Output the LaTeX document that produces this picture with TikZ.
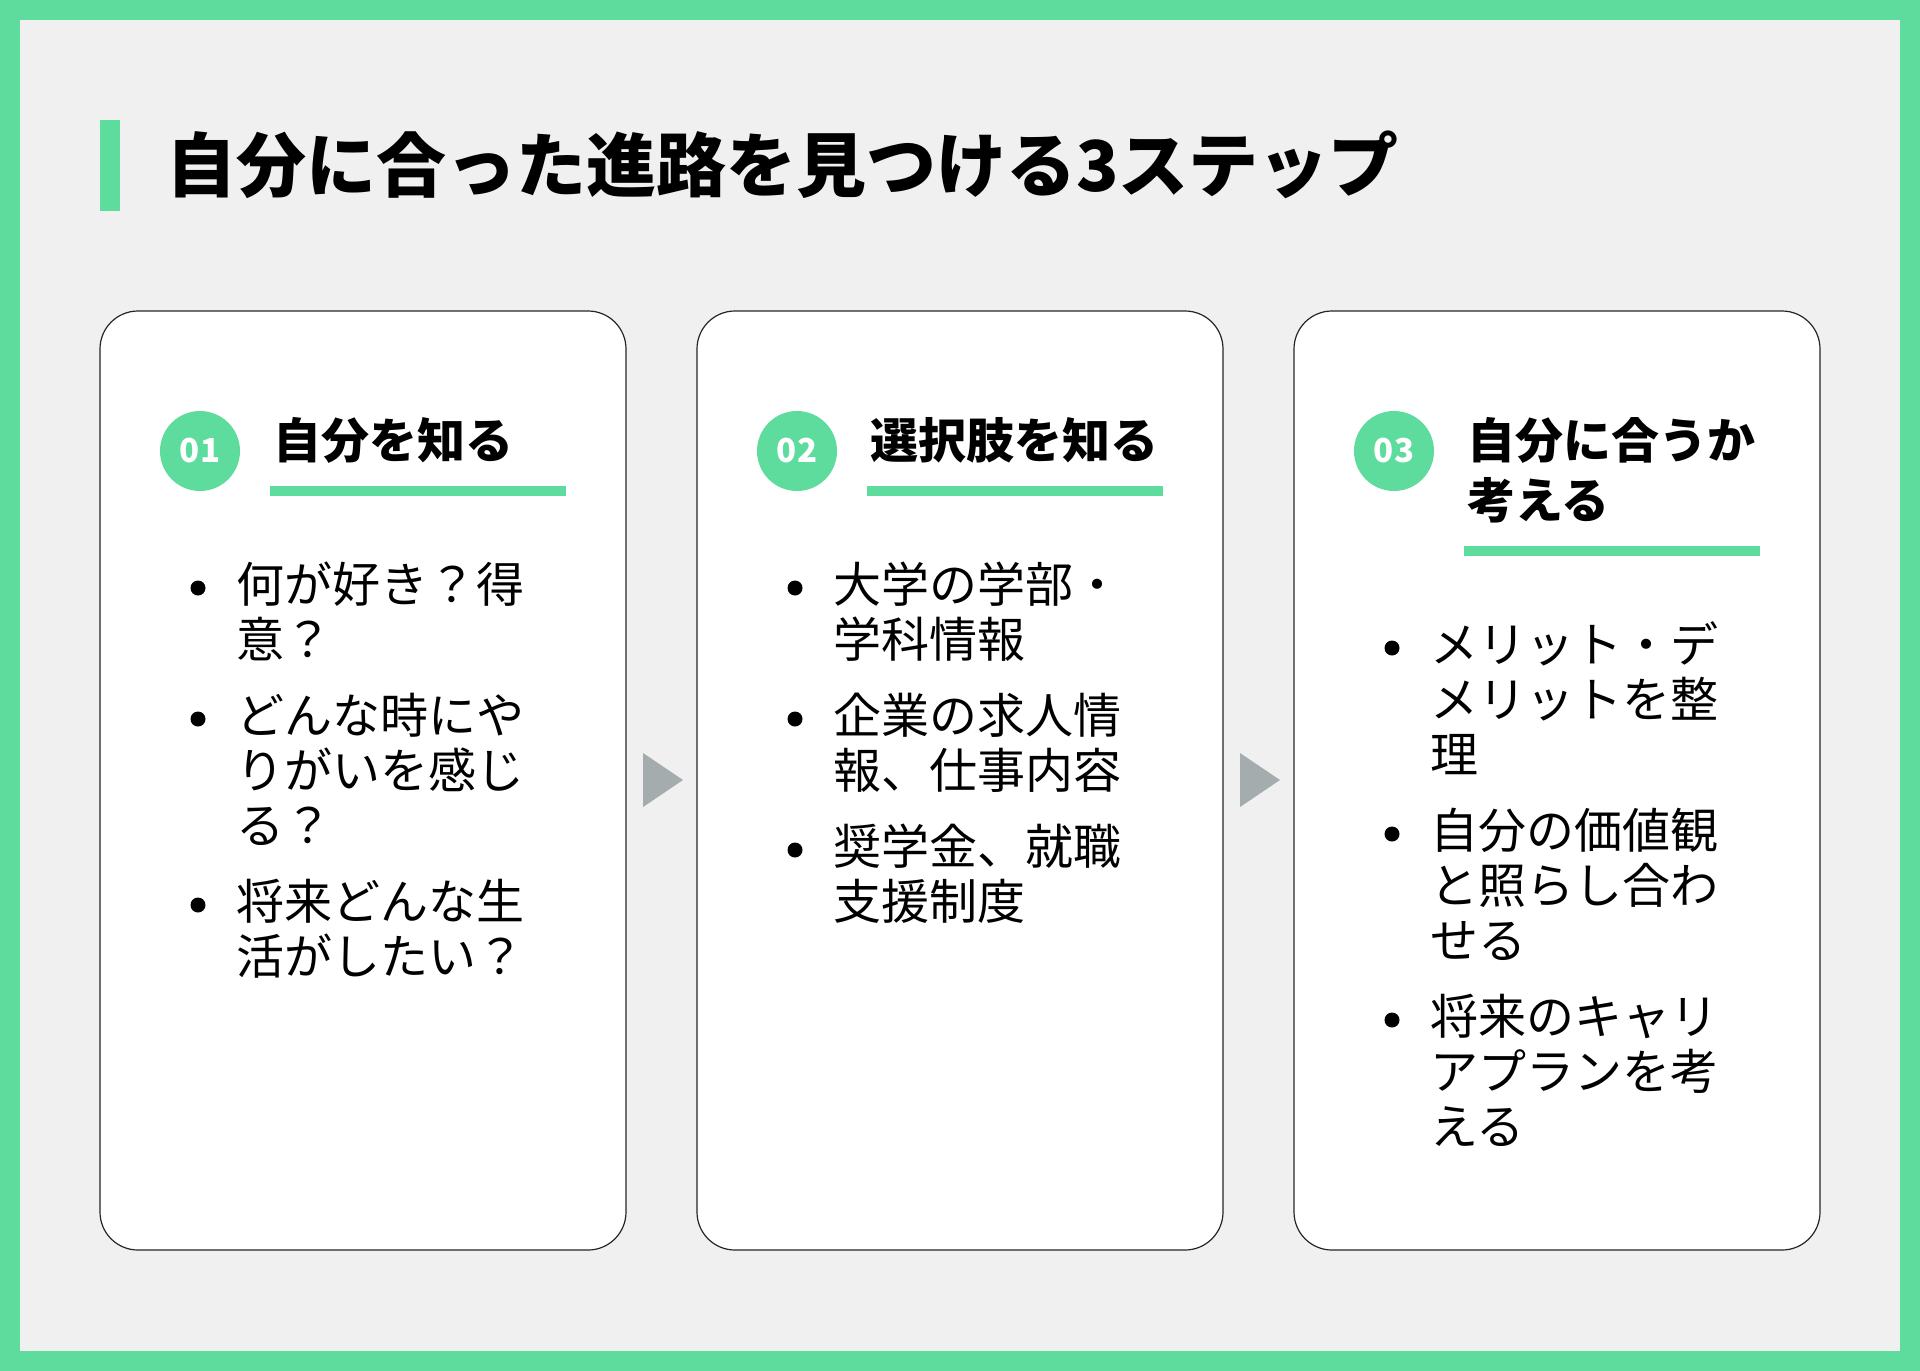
\documentclass[tikz,border=0pt]{standalone}
\usepackage{fontspec}
\setmainfont{Noto Sans CJK JP}
\usetikzlibrary{positioning}
\definecolor{stepgreen}{RGB}{94,220,158}
\definecolor{bggrey}{RGB}{240,240,240}
\definecolor{arrowgrey}{RGB}{164,172,173}
\tikzset{
	x=1pt, y=-1pt,
	card/.style={draw=black!85, line width=1.2pt, fill=white, rounded corners=38pt,
		minimum width=526pt, minimum height=939pt, inner sep=0pt},
	badge/.style={circle, fill=stepgreen, minimum size=80pt, inner sep=0pt,
		text=white, font=\fontsize{33}{33}\selectfont\bfseries},
	heading/.style={anchor=base west, inner sep=0pt, align=left,
		font=\fontsize{48}{60}\selectfont\bfseries},
	item/.style={anchor=base west, inner sep=0pt, align=left,
		font=\fontsize{48}{55}\selectfont},
	dot/.style={circle, fill=black, minimum size=15pt, inner sep=0pt},
	rule/.style={stepgreen, line width=10pt},
	marker/.style={fill=arrowgrey},
}
\begin{document}
\begin{tikzpicture}
	% frame and background
	\fill[stepgreen] (0,0) rectangle (1920,1371);
	\fill[bggrey] (20,20) rectangle (1900,1351);

	% title
	\fill[stepgreen] (100,120) rectangle (120,211);
	\node[anchor=base west, inner sep=0pt, font=\fontsize{70}{70}\selectfont\bfseries] (title) at (166,191) {自分に合った進路を見つける3ステップ};

	% cards
	\node[card] (card1) at (363,780.5) {};
	\node[card] (card2) at (960,780.5) {};
	\node[card] (card3) at (1557,780.5) {};

	% markers between the cards
	\fill[marker] (643,753) -- (683,780) -- (643,807) -- cycle;
	\fill[marker] (1240,753) -- (1280,780) -- (1240,807) -- cycle;

	% step 1 (base = baseline of the last line)
	\node[badge] (b1) at (200,451) {01};
	\node[heading] (h1) at (273,458) {自分を知る};
	\draw[rule] (270,491) -- (566,491);
	\node[dot] (d11) at (198,588) {};
	\node[item] (i11) at (236,657) {何が好き？得\\意？};
	\node[dot] (d12) at (198,719) {};
	\node[item] (i12) at (236,843) {どんな時にや\\りがいを感じ\\る？};
	\node[dot] (d13) at (198,905) {};
	\node[item] (i13) at (236,974) {将来どんな生\\活がしたい？};

	% step 2
	\node[badge] (b2) at (797,451) {02};
	\node[heading] (h2) at (870,458) {選択肢を知る};
	\draw[rule] (867,491) -- (1163,491);
	\node[dot] (d21) at (795,588) {};
	\node[item] (i21) at (833,657) {大学の学部・\\学科情報};
	\node[dot] (d22) at (795,719) {};
	\node[item] (i22) at (833,788) {企業の求人情\\報、仕事内容};
	\node[dot] (d23) at (795,850) {};
	\node[item] (i23) at (833,919) {奨学金、就職\\支援制度};

	% step 3
	\node[badge] (b3) at (1394,451) {03};
	\node[heading] (h3) at (1467,518) {自分に合うか\\考える};
	\draw[rule] (1464,551) -- (1760,551);
	\node[dot] (d31) at (1392,648) {};
	\node[item] (i31) at (1430,772) {メリット・デ\\メリットを整\\理};
	\node[dot] (d32) at (1392,834) {};
	\node[item] (i32) at (1430,958) {自分の価値観\\と照らし合わ\\せる};
	\node[dot] (d33) at (1392,1020) {};
	\node[item] (i33) at (1430,1144) {将来のキャリ\\アプランを考\\える};
\end{tikzpicture}
\end{document}
